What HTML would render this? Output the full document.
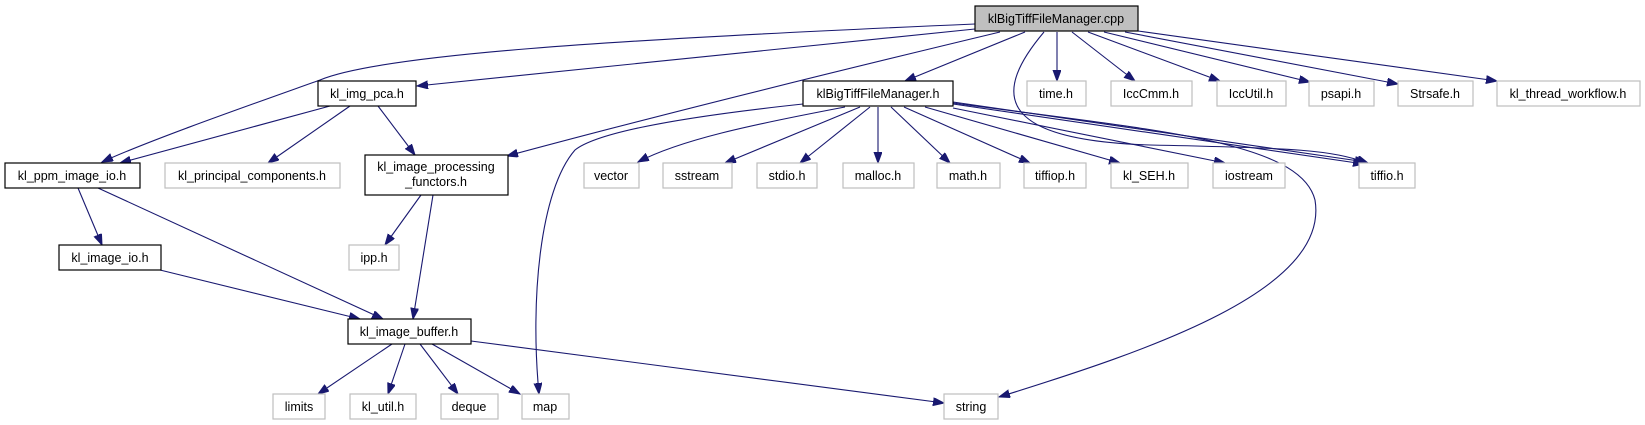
<!DOCTYPE html>
<html><head><meta charset="utf-8"><style>
html,body{margin:0;padding:0;background:#fff;width:1645px;height:425px;overflow:hidden}
text{font-family:"Liberation Sans",sans-serif;font-size:12.5px;fill:#000;text-anchor:middle}
.g{fill:#fff;stroke:#bfbfbf;stroke-width:1.2}
.b{fill:#fff;stroke:#000;stroke-width:1.2}
path{fill:none;stroke:#191970;stroke-width:1.1}
</style></head><body>
<svg width="1645" height="425" viewBox="0 0 1645 425" xmlns="http://www.w3.org/2000/svg">
<defs><marker id="a" markerUnits="userSpaceOnUse" markerWidth="12" markerHeight="10" refX="11" refY="4" orient="auto"><path d="M0,0 L11,4 L0,8 Z" style="fill:#191970;stroke:#191970;stroke-width:1"/></marker></defs>
<g marker-end="url(#a)">
<path d="M975,24 C600,40 380,55 320,80 C250,105 150,140 102,162"/>
<path d="M975,29 L417,86"/>
<path d="M1000,32 C800,80 640,120 507,156"/>
<path d="M1025,32 L905,81"/>
<path d="M953,103 C1150,130 1300,140 1315,200 C1330,290 1150,350 999,397"/>
<path d="M1044,32 C995,90 990,140 1150,145 C1300,148 1330,150 1368,163"/>
<path d="M953,102 L1366,162"/>
<path d="M953,104 L1364,164"/>
<path d="M1057,32 L1057,81"/>
<path d="M1072,32 L1135,81"/>
<path d="M1088,32 L1220,81"/>
<path d="M1104,32 L1310,82"/>
<path d="M1125,32 L1398,84"/>
<path d="M1138,31 L1497,81"/>
<path d="M803,104 C700,115 600,130 575,150 C540,190 530,300 539,394"/>
<path d="M845,107 C750,125 680,140 638,162"/>
<path d="M860,107 L725,163"/>
<path d="M870,107 L800,163"/>
<path d="M878,107 L878,163"/>
<path d="M891,107 L950,163"/>
<path d="M904,107 L1030,163"/>
<path d="M925,107 L1120,163"/>
<path d="M953,108 L1225,163"/>
<path d="M330,106 L120,163"/>
<path d="M350,106 L268,163"/>
<path d="M378,106 L415,155"/>
<path d="M78,188 L102,245"/>
<path d="M98,188 L383,319"/>
<path d="M421,195 L385,245"/>
<path d="M433,195 L413,319"/>
<path d="M160,270 L360,319"/>
<path d="M392,344 L318,394"/>
<path d="M405,344 L388,394"/>
<path d="M420,344 L458,394"/>
<path d="M432,344 L520,394"/>
<path d="M471,341 L944,403"/>
</g>
<rect x="975" y="6" width="163" height="25" style="fill:#bfbfbf;stroke:#000;stroke-width:1.2"/><text x="1056" y="23">klBigTiffFileManager.cpp</text>
<rect class="b" x="803" y="81" width="150" height="25"/><text x="878" y="98">klBigTiffFileManager.h</text>
<rect class="b" x="318" y="81" width="98" height="25"/><text x="367" y="98">kl_img_pca.h</text>
<rect class="b" x="5" y="163" width="135" height="25"/><text x="72" y="180">kl_ppm_image_io.h</text>
<rect class="g" x="165" y="163" width="175" height="25"/><text x="252" y="180">kl_principal_components.h</text>
<rect class="b" x="365" y="155" width="143" height="40"/><text x="436" y="171">kl_image_processing</text><text x="436" y="186">_functors.h</text>
<rect class="g" x="584" y="163" width="55" height="25"/><text x="611" y="180">vector</text>
<rect class="g" x="663" y="163" width="69" height="25"/><text x="697" y="180">sstream</text>
<rect class="g" x="757" y="163" width="60" height="25"/><text x="787" y="180">stdio.h</text>
<rect class="g" x="843" y="163" width="71" height="25"/><text x="878" y="180">malloc.h</text>
<rect class="g" x="937" y="163" width="63" height="25"/><text x="968" y="180">math.h</text>
<rect class="g" x="1024" y="163" width="62" height="25"/><text x="1055" y="180">tiffiop.h</text>
<rect class="g" x="1111" y="163" width="77" height="25"/><text x="1149" y="180">kl_SEH.h</text>
<rect class="g" x="1213" y="163" width="72" height="25"/><text x="1249" y="180">iostream</text>
<rect class="g" x="1359" y="163" width="56" height="25"/><text x="1387" y="180">tiffio.h</text>
<rect class="g" x="1027" y="81" width="59" height="25"/><text x="1056" y="98">time.h</text>
<rect class="g" x="1111" y="81" width="81" height="25"/><text x="1151" y="98">IccCmm.h</text>
<rect class="g" x="1217" y="81" width="69" height="25"/><text x="1251" y="98">IccUtil.h</text>
<rect class="g" x="1309" y="81" width="65" height="25"/><text x="1341" y="98">psapi.h</text>
<rect class="g" x="1398" y="81" width="75" height="25"/><text x="1435" y="98">Strsafe.h</text>
<rect class="g" x="1497" y="81" width="143" height="25"/><text x="1568" y="98">kl_thread_workflow.h</text>
<rect class="b" x="59" y="245" width="102" height="25"/><text x="110" y="262">kl_image_io.h</text>
<rect class="g" x="349" y="245" width="50" height="25"/><text x="374" y="262">ipp.h</text>
<rect class="b" x="348" y="319" width="123" height="25"/><text x="409" y="336">kl_image_buffer.h</text>
<rect class="g" x="273" y="394" width="52" height="25"/><text x="299" y="411">limits</text>
<rect class="g" x="350" y="394" width="66" height="25"/><text x="383" y="411">kl_util.h</text>
<rect class="g" x="441" y="394" width="57" height="25"/><text x="469" y="411">deque</text>
<rect class="g" x="522" y="394" width="47" height="25"/><text x="545" y="411">map</text>
<rect class="g" x="944" y="394" width="54" height="25"/><text x="971" y="411">string</text>
</svg>
</body></html>
